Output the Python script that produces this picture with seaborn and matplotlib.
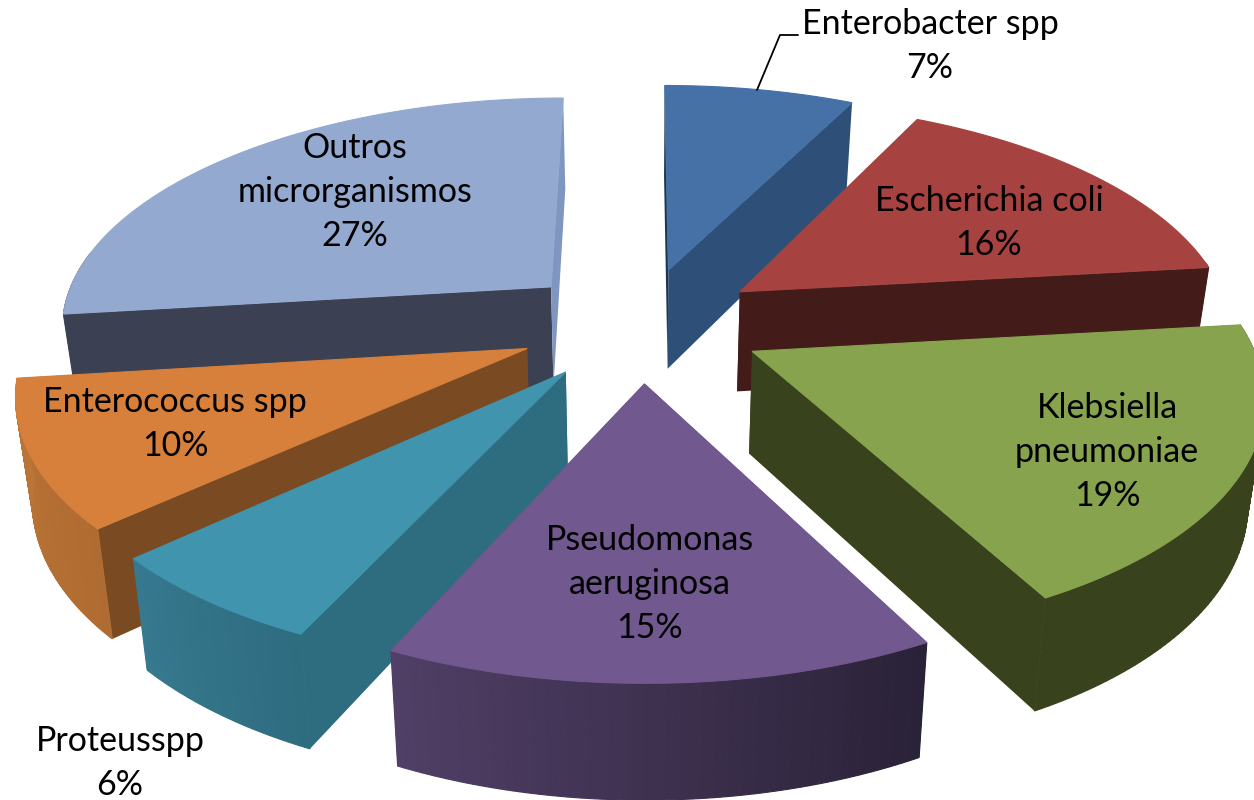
import numpy as np
import matplotlib
matplotlib.use("Agg")
import matplotlib.pyplot as plt
import seaborn as sns

# Data (shown rounded on the labels)
labels = ["Enterobacter spp", "Escherichia coli", "Klebsiella\npneumoniae", "Pseudomonas\naeruginosa",
          "Proteusspp", "Enterococcus spp", "Outros\nmicrorganismos"]
shares = [7.4, 15.8, 19.05, 14.65, 6.3, 9.85, 26.95]

# Colours: top face, side wall at the start angle, side wall at the end angle, rim gradient
top_colors = ["#4571a7", "#a64340", "#87a34d", "#71588f", "#4094ad", "#d6803c", "#93a9cf"]
start_walls = ["#1c3450", "#431c1a", "#38421c", "#2a2238", "#2e6c80", "#7a4a22", "#3b4052"]
end_walls = ["#2e5078", "#431c1a", "#38421c", "#2a2238", "#2e6c80", "#7a4a22", "#7f97c0"]
rim_from = ["#2e5078", "#431c1a", "#38421c", "#2a2238", "#2e6c80", "#b06b32", "#3b4052"]
rim_to = ["#2e5078", "#431c1a", "#38421c", "#503f66", "#37798f", "#bb7536", "#3b4052"]
# painter's order, back to front
draw_order = [6, 0, 1, 2, 5, 4, 3]

# where each label sits
label_pos = [(930, 46), (989, 223), (1107, 452), (650, 584), (120, 763), (175, 424), (355, 192)]

# perspective model of the pie
CX, CY = 641, 324
F, G, K = 493, 230, 0.16
EXPLODE = 0.25
DEPTH = 101


def project(u, v):
    d = 1 + K * v
    return CX + F * u / d, CY - G * v / d


def lower(x, y):
    return CX + (x - CX) * 0.973, CY + (y - CY) * 1.044 + DEPTH


sns.set_theme(style="white")
plt.rcParams["font.family"] = ["Lato", "DejaVu Sans"]

fig = plt.figure(figsize=(12.54, 8), dpi=100)
ax = fig.add_axes([0, 0, 1, 1])
ax.set_xlim(0, 1254)
ax.set_ylim(800, 0)
ax.axis("off")

edges = np.radians(np.cumsum([0] + shares) * 3.6)

for i in draw_order:
    a0, a1 = edges[i], edges[i + 1]
    mid = (a0 + a1) / 2
    ou, ov = EXPLODE * np.sin(mid), EXPLODE * np.cos(mid)
    th = np.linspace(a0, a1, 80)
    xt, yt = project(ou + np.sin(th), ov + np.cos(th))
    xa, ya = project(ou, ov)
    xb, yb = lower(xt, yt)
    xab, yab = lower(xa, ya)

    # radial walls
    ax.fill([xa, xt[0], xb[0], xab], [ya, yt[0], yb[0], yab], color=start_walls[i], lw=0)
    ax.fill([xa, xt[-1], xb[-1], xab], [ya, yt[-1], yb[-1], yab], color=end_walls[i], lw=0)

    # rim, only the part that faces the viewer, shaded by screen position
    shades = sns.blend_palette([rim_from[i], rim_to[i]], 79)
    order = np.arange(79) if xt[0] > xt[-1] else np.arange(79)[::-1]
    for n, j in enumerate(order):
        if np.cos(th[j]) > 0.14:
            continue
        ax.fill([xt[j], xt[j + 1], xb[j + 1], xb[j]], [yt[j], yt[j + 1], yb[j + 1], yb[j]],
                color=shades[n], lw=0.8)

    # top face
    ax.fill(np.r_[xa, xt], np.r_[ya, yt], color=top_colors[i], lw=0.8)

for name, share, (x, y) in zip(labels, shares, label_pos):
    ax.text(x, y, f"{name}\n{round(share)}%", ha="center", va="center", fontsize=24.5,
            color="black", linespacing=1.48)

# leader line for the first label
ax.plot([757, 780, 798], [90, 35, 35], color="black", lw=1.3)

fig.savefig("out.png", dpi=100)
